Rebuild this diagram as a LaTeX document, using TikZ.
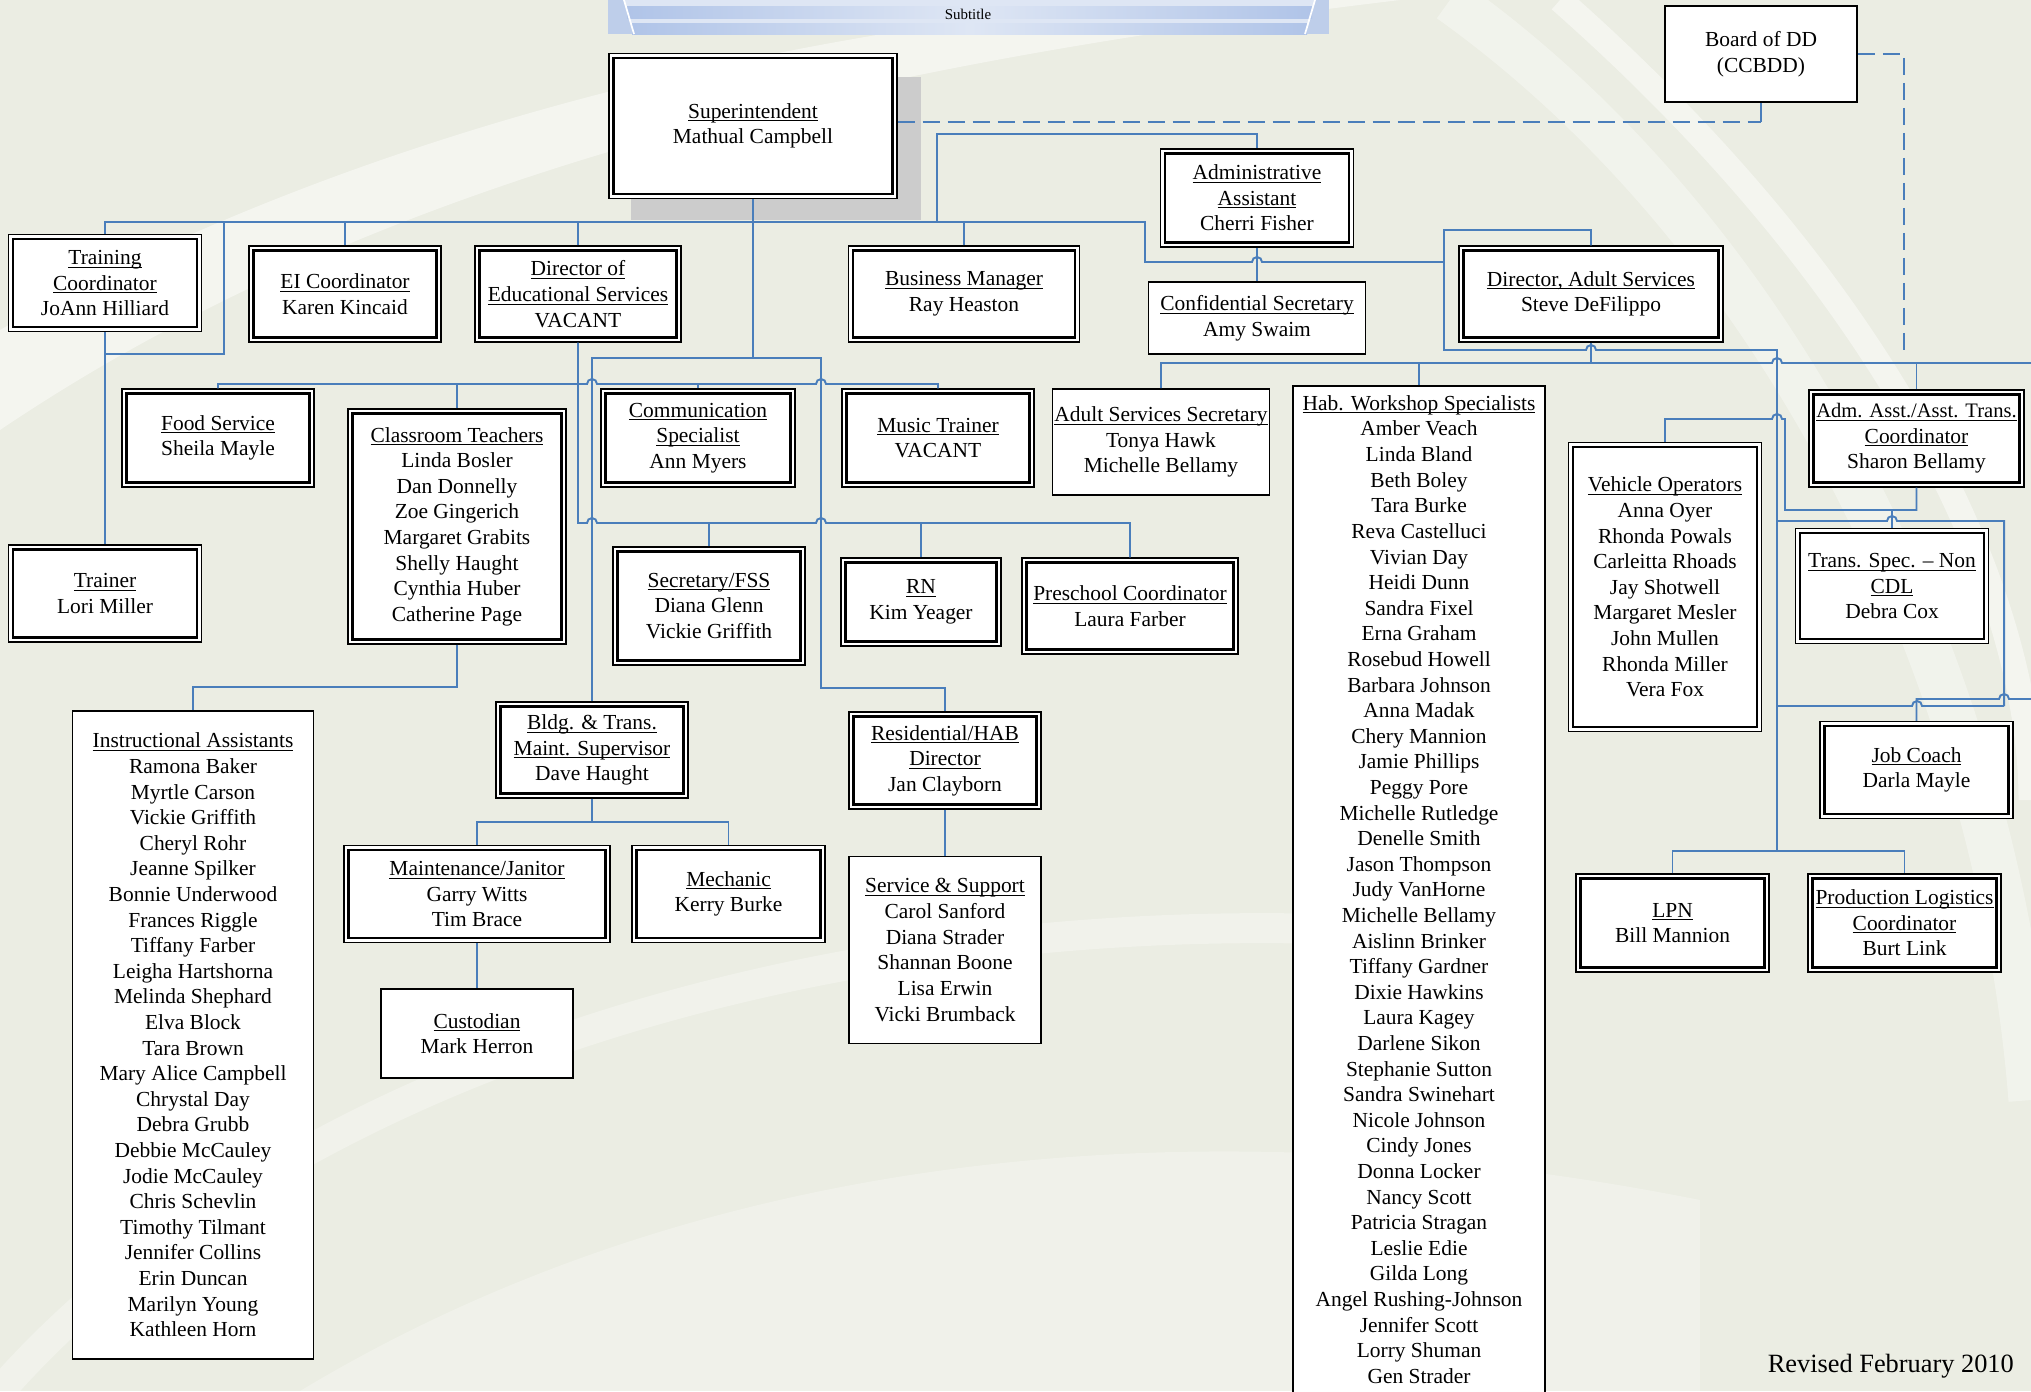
\documentclass[tikz,border=0pt]{standalone}
\usepackage{fontspec}
\setmainfont{Liberation Serif}
\definecolor{linkblue}{RGB}{74,126,187}
\definecolor{paper}{RGB}{235,237,227}
\definecolor{bannerblue}{RGB}{190,206,234}
\definecolor{stripeblue}{RGB}{176,196,232}
\definecolor{stripelight}{RGB}{222,230,244}
\newcommand{\ul}[1]{\underline{\raisebox{0pt}[\height][0pt]{#1}}}
\tikzset{
    wh/.style 2 args={minimum width=#1*0.2mm, minimum height=#2*0.2mm},
    sbox/.style={draw=black, line width=1pt, fill=white, align=center, inner sep=0pt, font=\fontsize{12.2}{14.57}\selectfont},
    dbox/.style={sbox, line width=0.8pt, path picture={\draw [line width=1.5pt] ([shift={(0.9mm, -0.9mm)}]path picture bounding box.north west) rectangle ([shift={(-0.9mm, 0.9mm)}]path picture bounding box.south east);}},
    conn/.style={draw=linkblue, line width=1.1pt},
    dashline/.style={conn, dash pattern=on 3.4mm off 1.6mm},
    hop at/.style 2 args={insert path={-- ({#1-5}, #2) arc [start angle=180, end angle=0, radius=1mm]}}
}
\begin{document}
\begin{tikzpicture}[x=0.2mm, y=-0.2mm]
    \useasboundingbox (0, 0) rectangle (2031, 1391);
    \fill [paper] (0, 0) rectangle (2031, 1391);
    \fill [white, opacity=0.45] (0, 430) .. controls (400, 160) and (900, 60) .. (1400, 0) -- (1150, 0) .. controls (700, 40) and (300, 160) .. (0, 330) -- cycle;
    \draw [white, line width=9mm, opacity=0.35] (1450, 0) .. controls (1800, 250) and (2000, 700) .. (2031, 1100);
    \draw [white, line width=5mm, opacity=0.45] (1560, 0) .. controls (1900, 300) and (2031, 600) .. (2031, 800);
    \draw [white, line width=6mm, opacity=0.3] (0, 1391) .. controls (300, 1050) and (900, 880) .. (1500, 940);
    \fill [white, opacity=0.25] (300, 1391) .. controls (700, 1150) and (1200, 1100) .. (1700, 1200) -- (1700, 1391) -- cycle;

    % banner
    \fill [bannerblue] (608, 0) rectangle (1329, 34);
    \fill [stripelight] (624, 0) -- (1315, 0) -- (1305, 34) -- (634, 34) -- cycle;
    \shade [left color=stripeblue, right color=stripeblue, middle color=stripelight] (627, 6) rectangle (1312, 18);
    \shade [left color=stripeblue, right color=stripeblue, middle color=stripelight] (632, 23) rectangle (1307, 34);
    \draw [white, line width=1pt] (624, 0) -- (634, 34);
    \draw [white, line width=1pt] (1315, 0) -- (1305, 34);
    \node [font=\fontsize{8.5}{10}\selectfont] (subtitle) at (968, 14) {Subtitle};

    \fill [black!20] (631, 77) rectangle (921, 220);

    \node [sbox, wh={192}{96}] (board) at (1761, 54) {Board of DD\\(CCBDD)};
    \node [dbox, wh={288}{145}] (sup) at (753, 126) {\ul{Superintendent}\\Mathual Campbell};
    \node [dbox, wh={193}{98}] (admin) at (1257, 198) {\ul{Administrative}\\\ul{Assistant}\\Cherri Fisher};
    \node [dbox, wh={193}{97}] (tc) at (105, 283) {\ul{Training}\\\ul{Coordinator}\\JoAnn Hilliard};
    \node [dbox, wh={192}{96}] (ei) at (345, 294) {\ul{EI Coordinator}\\Karen Kincaid};
    \node [dbox, wh={206}{96}] (dired) at (578, 294) {\ul{Director of}\\\ul{Educational Services}\\VACANT};
    \node [dbox, wh={231}{96}] (bm) at (964, 294) {\ul{Business Manager}\\Ray Heaston};
    \node [sbox, wh={217}{72}] (confsec) at (1257, 318) {\ul{Confidential Secretary}\\Amy Swaim};
    \node [dbox, wh={264}{96}] (diras) at (1591, 294) {\ul{Director, Adult Services}\\Steve DeFilippo};

    \node [dbox, wh={192}{98}] (food) at (218, 438) {\ul{Food Service}\\Sheila Mayle};
    \node [dbox, wh={218}{235}] (ct) at (457, 526.5) {\ul{Classroom Teachers}\\Linda Bosler\\Dan Donnelly\\Zoe Gingerich\\Margaret Grabits\\Shelly Haught\\Cynthia Huber\\Catherine Page};
    \node [dbox, wh={194}{98}] (comm) at (698, 438) {\ul{Communication}\\\ul{Specialist}\\Ann Myers};
    \node [dbox, wh={192}{98}] (music) at (938, 438) {\ul{Music Trainer}\\VACANT};
    \node [sbox, wh={217}{106}] (ass) at (1161, 442) {\ul{Adult Services Secretary}\\Tonya Hawk\\Michelle Bellamy};
    \node [sbox, wh={252}{1007}] (hab) at (1419, 889.5) {\ul{Hab. Workshop Specialists}\\Amber Veach\\Linda Bland\\Beth Boley\\Tara Burke\\Reva Castelluci\\Vivian Day\\Heidi Dunn\\Sandra Fixel\\Erna Graham\\Rosebud Howell\\Barbara Johnson\\Anna Madak\\Chery Mannion\\Jamie Phillips\\Peggy Pore\\Michelle Rutledge\\Denelle Smith\\Jason Thompson\\Judy VanHorne\\Michelle Bellamy\\Aislinn Brinker\\Tiffany Gardner\\Dixie Hawkins\\Laura Kagey\\Darlene Sikon\\Stephanie Sutton\\Sandra Swinehart\\Nicole Johnson\\Cindy Jones\\Donna Locker\\Nancy Scott\\Patricia Stragan\\Leslie Edie\\Gilda Long\\Angel Rushing-Johnson\\Jennifer Scott\\Lorry Shuman\\Gen Strader};
    \node [dbox, wh={215}{97}] (adm) at (1916.5, 438.5) {{\fontsize{11.7}{14.57}\selectfont\ul{Adm. Asst./Asst. Trans.}}\\\ul{Coordinator}\\Sharon Bellamy};
    \node [dbox, wh={193}{289}] (vo) at (1665, 587) {\ul{Vehicle Operators}\\Anna Oyer\\Rhonda Powals\\Carleitta Rhoads\\Jay Shotwell\\Margaret Mesler\\John Mullen\\Rhonda Miller\\Vera Fox};

    \node [dbox, wh={193}{97}] (trainer) at (105, 593.5) {\ul{Trainer}\\Lori Miller};
    \node [dbox, wh={192}{118}] (secfss) at (709, 606) {\ul{Secretary/FSS}\\Diana Glenn\\Vickie Griffith};
    \node [dbox, wh={160}{88}] (rn) at (921, 602) {\ul{RN}\\Kim Yeager};
    \node [dbox, wh={216}{96}] (pre) at (1130, 606) {\ul{Preschool Coordinator}\\Laura Farber};
    \node [dbox, wh={193}{115}] (tsnc) at (1892, 586) {\ul{Trans. Spec. -- Non}\\\ul{CDL}\\Debra Cox};

    \node [sbox, wh={241}{648}] (ia) at (193, 1035) {\ul{Instructional Assistants}\\Ramona Baker\\Myrtle Carson\\Vickie Griffith\\Cheryl Rohr\\Jeanne Spilker\\Bonnie Underwood\\Frances Riggle\\Tiffany Farber\\Leigha Hartshorna\\Melinda Shephard\\Elva Block\\Tara Brown\\Mary Alice Campbell\\Chrystal Day\\Debra Grubb\\Debbie McCauley\\Jodie McCauley\\Chris Schevlin\\Timothy Tilmant\\Jennifer Collins\\Erin Duncan\\Marilyn Young\\Kathleen Horn};
    \node [dbox, wh={192}{96}] (bldg) at (592, 750) {\ul{Bldg. \& Trans.}\\\ul{Maint. Supervisor}\\Dave Haught};
    \node [dbox, wh={192}{97}] (res) at (945, 760.5) {\ul{Residential/HAB}\\\ul{Director}\\Jan Clayborn};
    \node [dbox, wh={193}{97}] (jc) at (1916.5, 770) {\ul{Job Coach}\\Darla Mayle};
    \node [dbox, wh={266}{97}] (maint) at (477, 894) {\ul{Maintenance/Janitor}\\Garry Witts\\Tim Brace};
    \node [dbox, wh={193}{97}] (mech) at (728.5, 894) {\ul{Mechanic}\\Kerry Burke};
    \node [sbox, wh={192}{187}] (ss) at (945, 950) {\ul{Service \& Support}\\Carol Sanford\\Diana Strader\\Shannan Boone\\Lisa Erwin\\Vicki Brumback};
    \node [dbox, wh={193}{98}] (lpn) at (1672.5, 923) {\ul{LPN}\\Bill Mannion};
    \node [dbox, wh={193}{98}] (pl) at (1904.5, 923) {\ul{Production Logistics}\\\ul{Coordinator}\\Burt Link};
    \node [sbox, wh={192}{89}] (cust) at (477, 1033.5) {\ul{Custodian}\\Mark Herron};

    \node [anchor=east, font=\fontsize{15}{17}\selectfont] (rev) at (2020, 1366) {Revised February 2010};

    \coordinate (busS) at (0, 122);
    \coordinate (busA) at (0, 222);
    \coordinate (busT) at (0, 354);
    \coordinate (busC) at (0, 358);
    \coordinate (busF) at (0, 363);
    \coordinate (busD) at (0, 384);
    \coordinate (busV) at (0, 510);
    \coordinate (busE) at (0, 523);
    \coordinate (busI) at (0, 687);
    \coordinate (busG) at (0, 822);
    \coordinate (jT) at (224, 222);
    \coordinate (jA) at (937, 222);
    \coordinate (edgeF) at (2040, 363);
    \coordinate (edgeJ) at (2040, 699);

    % superintendent and board
    \draw [dashline] (sup.east |- busS) -- (board.south |- busS);
    \draw [conn] (board.south |- busS) -- (board.south);
    \draw [dashline] (board.east) -| (1904, 357);
    \draw [conn] (tc.north) |- (1145, 222) -- (1145, 262) [hop at={1257}{262}] -- (1444, 262);
    \draw [conn] (ei.north) -- (ei.north |- busA);
    \draw [conn] (dired.north) -- (dired.north |- busA);
    \draw [conn] (bm.north) -- (bm.north |- busA);
    \draw [conn] (sup.south) -- (sup.south |- busC);
    \draw [conn] (jT) |- (tc.south |- busT);
    \draw [conn] (tc.south) -- (trainer.north);
    \draw [conn] (jA) -- (937, 134) -| (admin.north);
    \draw [conn] (admin.south) -- (confsec.north);

    % adult services
    \draw [conn] (diras.north) |- (1444, 230) -- (1444, 350) [hop at={1591}{350}] -- (1777, 350) -- (1777, 851);
    \draw [conn] (lpn.north) |- (1777, 851) -| (pl.north);
    \draw [conn] (diras.south) -- (diras.south |- busF);
    \draw [conn] (ass.north) |- (1700, 363) [hop at={1777}{363}] -- (edgeF);
    \draw [conn] (hab.north) -- (hab.north |- busF);
    \draw [conn] (adm.north) -- (adm.north |- busF);
    \draw [conn] (vo.north) |- (1770, 419) [hop at={1777}{419}] -- (1785, 419) |- (adm.south |- busV) -- (adm.south);
    \draw [conn] (tsnc.north) -- (tsnc.north |- busV);
    \draw [conn] (1777, 521) [hop at={1892}{521}] -- (2004, 521) -- (2004, 706);
    \draw [conn] (1777, 706) [hop at={1917}{706}] -- (2004, 706);
    \draw [conn] (jc.north) |- (1990, 699) [hop at={2004}{699}] -- (edgeJ);

    % education services
    \draw [conn] (bldg.north) |- (sup.south |- busC) -| (821, 688) -| (res.north);
    \draw [conn] (food.north) |- (587, 384) [hop at={592}{384}] -- (816, 384) [hop at={821}{384}] -| (music.north);
    \draw [conn] (ct.north) -- (ct.north |- busD);
    \draw [conn] (comm.north) -- (comm.north |- busD);
    \draw [conn] (dired.south) |- (587, 523) [hop at={592}{523}] -- (816, 523) [hop at={821}{523}] -| (pre.north);
    \draw [conn] (secfss.north) -- (secfss.north |- busE);
    \draw [conn] (rn.north) -- (rn.north |- busE);
    \draw [conn] (ct.south) |- (ia.north |- busI) -- (ia.north);
    \draw [conn] (bldg.south) -- (bldg.south |- busG);
    \draw [conn] (maint.north) |- (mech.north |- busG) -- (mech.north);
    \draw [conn] (maint.south) -- (cust.north);
    \draw [conn] (res.south) -- (ss.north);
\end{tikzpicture}
\end{document}
